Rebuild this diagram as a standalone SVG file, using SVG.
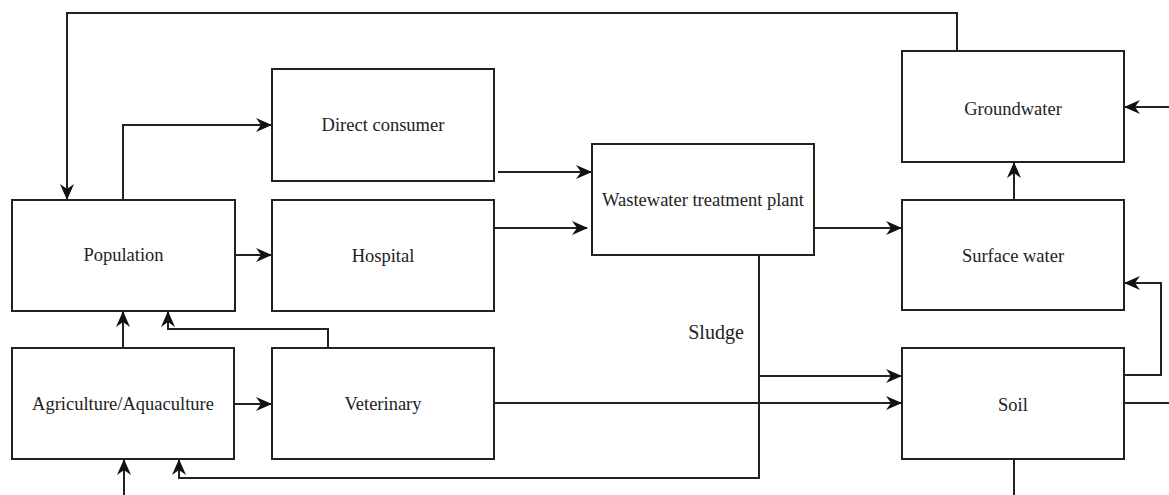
<svg xmlns="http://www.w3.org/2000/svg" width="1169" height="495" viewBox="0 0 1169 495">
<style>
.box{fill:#fff;stroke:#222;stroke-width:2}
.lbl{font-size:18.5px;fill:#222;text-anchor:middle}
.c{fill:none;stroke:#222;stroke-width:2}
.a{marker-end:url(#ah)}
</style>
<defs>
<marker id="ah" markerUnits="userSpaceOnUse" markerWidth="16" markerHeight="14" refX="15" refY="7" orient="auto">
<path d="M0,0 L16,7 L0,14 L5,7 z" fill="#111"/>
</marker>
</defs>
<rect width="1169" height="495" fill="#fff"/>
<g id="connectors">
<polyline class="c a" points="957,51 957,13 67,13 67,199"/>
<polyline class="c a" points="123,199 123,125 271,125"/>
<line class="c a" x1="235" y1="255" x2="271" y2="255"/>
<line class="c a" x1="498" y1="172" x2="591" y2="172"/>
<line class="c a" x1="494" y1="228" x2="587" y2="228"/>
<line class="c a" x1="814" y1="228" x2="901" y2="228"/>
<line class="c a" x1="1014" y1="199" x2="1014" y2="163"/>
<line class="c a" x1="1169" y1="107" x2="1125" y2="107"/>
<polyline class="c a" points="1124,375 1161,375 1161,283 1125,283"/>
<line class="c" x1="1124" y1="403" x2="1169" y2="403"/>
<line class="c" x1="1014" y1="459" x2="1014" y2="495"/>
<line class="c a" x1="123" y1="348" x2="123" y2="312"/>
<polyline class="c a" points="328,348 328,329 168,329 168,312"/>
<line class="c a" x1="235" y1="404" x2="271" y2="404"/>
<line class="c a" x1="494" y1="403" x2="901" y2="403"/>
<polyline class="c a" points="759,255 759,478 179,478 179,460"/>
<line class="c a" x1="759" y1="376" x2="901" y2="376"/>
<line class="c a" x1="124" y1="495" x2="124" y2="460"/>
</g>
<g font-family="Liberation Serif, Times New Roman, serif">
<g id="population"><rect class="box" x="12" y="200" width="223" height="111"/><text class="lbl" x="123.5" y="261">Population</text></g>
<g id="direct-consumer"><rect class="box" x="272" y="69" width="222" height="112"/><text class="lbl" x="383" y="131">Direct consumer</text></g>
<g id="hospital"><rect class="box" x="272" y="200" width="222" height="111"/><text class="lbl" x="383" y="262">Hospital</text></g>
<g id="agriculture"><rect class="box" x="12" y="348" width="222" height="111"/><text class="lbl" x="123" y="410">Agriculture/Aquaculture</text></g>
<g id="veterinary"><rect class="box" x="272" y="348" width="222" height="111"/><text class="lbl" x="383" y="410">Veterinary</text></g>
<g id="wwtp"><rect class="box" x="592" y="144" width="222" height="111"/><text class="lbl" x="703" y="206">Wastewater treatment plant</text></g>
<g id="groundwater"><rect class="box" x="902" y="51" width="222" height="111"/><text class="lbl" x="1013" y="115">Groundwater</text></g>
<g id="surface-water"><rect class="box" x="902" y="200" width="222" height="110"/><text class="lbl" x="1013" y="262">Surface water</text></g>
<g id="soil"><rect class="box" x="902" y="348" width="222" height="111"/><text class="lbl" x="1013" y="411">Soil</text></g>
<text x="716" y="339" font-size="20" fill="#222" text-anchor="middle">Sludge</text>
</g>
</svg>
